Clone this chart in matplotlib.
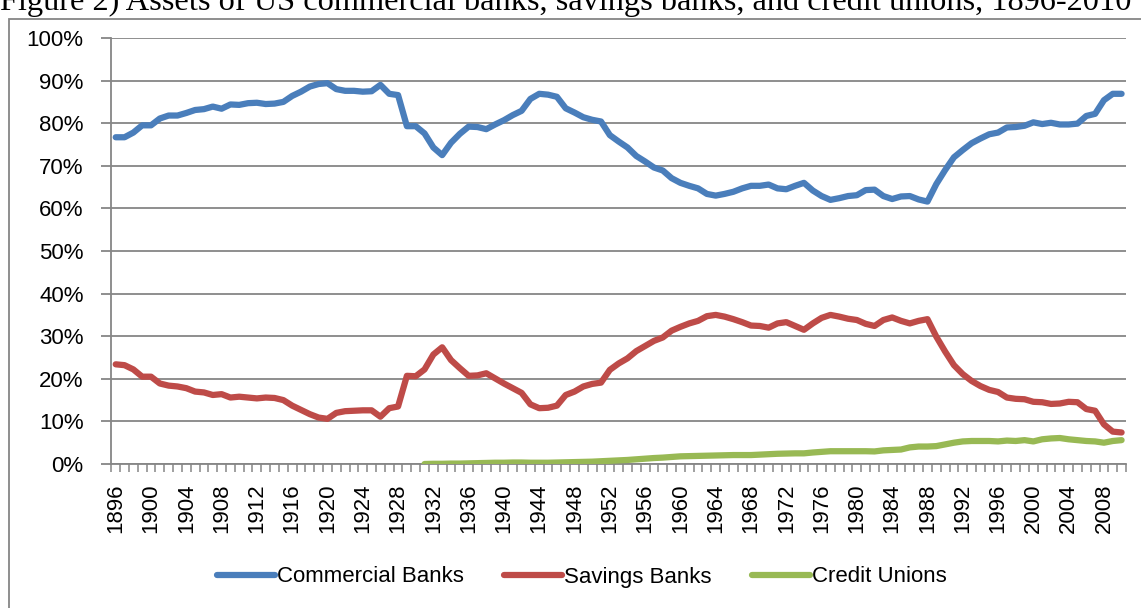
import numpy as np
import matplotlib
matplotlib.use("Agg")
import matplotlib.pyplot as plt
from matplotlib.patches import Rectangle

# years on the category axis
years = list(range(1896, 2011))

# share of total assets (%)
commercial = [
    76.7, 76.7, 77.8, 79.5, 79.5, 81.1, 81.8, 81.8, 82.4, 83.1,
    83.3, 83.9, 83.4, 84.4, 84.3, 84.7, 84.8, 84.5, 84.6, 85.0,
    86.4, 87.4, 88.6, 89.2, 89.4, 88.0, 87.6, 87.6, 87.4, 87.5,
    89.0, 86.9, 86.6, 79.3, 79.3, 77.6, 74.3, 72.5, 75.4, 77.5,
    79.2, 79.1, 78.6, 79.7, 80.7, 81.9, 82.9, 85.7, 86.9, 86.7,
    86.2, 83.5, 82.5, 81.4, 80.8, 80.4, 77.2, 75.7, 74.3, 72.3,
    71.0, 69.6, 68.9, 67.1, 66.0, 65.3, 64.7, 63.4, 63.0, 63.4,
    63.9, 64.7, 65.3, 65.3, 65.6, 64.7, 64.5, 65.3, 66.0, 64.2,
    62.9, 62.0, 62.4, 62.9, 63.1, 64.3, 64.4, 62.9, 62.2, 62.8,
    62.9, 62.1, 61.6, 65.7, 69.0, 72.0, 73.7, 75.3, 76.4, 77.4,
    77.8, 79.0, 79.1, 79.4, 80.2, 79.8, 80.1, 79.7, 79.7, 79.9,
    81.7, 82.2, 85.4, 86.9, 86.9,
]
savings = [
    23.4, 23.2, 22.2, 20.5, 20.5, 18.9, 18.4, 18.2, 17.8, 17.0,
    16.8, 16.2, 16.4, 15.6, 15.8, 15.6, 15.4, 15.6, 15.5, 15.0,
    13.7, 12.7, 11.7, 10.9, 10.6, 12.0, 12.4, 12.5, 12.6, 12.6,
    11.1, 13.1, 13.5, 20.7, 20.6, 22.2, 25.7, 27.4, 24.4, 22.5,
    20.7, 20.8, 21.3, 20.1, 18.9, 17.8, 16.7, 14.0, 13.1, 13.2,
    13.7, 16.2, 17.0, 18.2, 18.8, 19.1, 22.1, 23.6, 24.8, 26.5,
    27.7, 28.9, 29.7, 31.3, 32.2, 33.0, 33.6, 34.7, 35.0, 34.6,
    34.0, 33.3, 32.5, 32.4, 32.0, 33.0, 33.3, 32.4, 31.5, 33.0,
    34.3, 35.0, 34.6, 34.1, 33.8, 32.9, 32.4, 33.8, 34.4, 33.6,
    33.0, 33.6, 34.0, 29.9, 26.4, 23.2, 21.1, 19.5, 18.3, 17.4,
    16.9, 15.6, 15.3, 15.2, 14.6, 14.5, 14.1, 14.2, 14.6, 14.5,
    12.9, 12.5, 9.3, 7.6, 7.4,
]
cu_years = list(range(1931, 2011))
credit_unions = [
    0.0, 0.05, 0.05, 0.1, 0.1, 0.15, 0.2, 0.25, 0.3, 0.3,
    0.35, 0.35, 0.3, 0.3, 0.3, 0.35, 0.4, 0.45, 0.5, 0.55,
    0.65, 0.75, 0.85, 0.95, 1.1, 1.25, 1.4, 1.5, 1.65, 1.8,
    1.85, 1.9, 1.95, 2.0, 2.05, 2.1, 2.1, 2.1, 2.2, 2.3,
    2.4, 2.45, 2.5, 2.5, 2.7, 2.85, 3.0, 3.0, 3.0, 3.0,
    3.0, 2.95, 3.2, 3.3, 3.4, 3.9, 4.1, 4.1, 4.2, 4.6,
    5.0, 5.3, 5.4, 5.4, 5.4, 5.3, 5.5, 5.4, 5.6, 5.3,
    5.8, 6.0, 6.1, 5.8, 5.6, 5.4, 5.3, 5.0, 5.4, 5.6,
]
series_names = ["Commercial Banks", "Savings Banks", "Credit Unions"]
colors = ["#4A7EBB", "#BE4B48", "#98B954"]
title = "Figure 2) Assets of US commercial banks, savings banks, and credit unions, 1896-2010"

W, H = 1141, 608
fig = plt.figure(figsize=(W / 100, H / 100), dpi=100)
sans = "Liberation Sans"
grey = "#868686"

# chart frame (only left and top edges fall inside the picture)
fig.patches.append(Rectangle((9 / W, -0.1), 1.2, 1 - 19 / H + 0.1, transform=fig.transFigure,
                             fill=False, edgecolor=grey, lw=1.3))

# caption line above the chart, cropped at the top edge as in the source
fig.text(0.0, 1 - 10 / H, title, family="Liberation Serif", fontsize=23.3,
         ha="left", va="baseline")

ax = fig.add_axes([111.3 / W, 1 - 464 / H, (1126 - 111.3) / W, (464 - 38) / H])

ax.plot(years, np.array(commercial) / 100, color=colors[0], lw=4.5,
        solid_capstyle="round", solid_joinstyle="round", label=series_names[0], zorder=3)
ax.plot(years, np.array(savings) / 100, color=colors[1], lw=4.5,
        solid_capstyle="round", solid_joinstyle="round", label=series_names[1], zorder=3)
ax.plot(cu_years, np.array(credit_unions) / 100, color=colors[2], lw=4.5,
        solid_capstyle="round", solid_joinstyle="round", label=series_names[2], zorder=3)

ax.set_xlim(1895.5, 2010.5)
ax.set_ylim(0, 1)

yt = np.arange(0, 1.01, 0.1)
ax.set_yticks(yt)
ax.set_yticklabels(["%d%%" % round(v * 100) for v in yt], family=sans, fontsize=16)
ax.tick_params(axis="y", length=7, width=1.3, color=grey, pad=13)
ax.grid(axis="y", color=grey, lw=1.3, zorder=1)

xt = list(range(1896, 2011, 4))
ax.set_xticks(xt)
ax.set_xticklabels([str(y) for y in xt], rotation=90, family=sans, fontsize=16)
ax.set_xticks(np.arange(1895.5, 2011, 1), minor=True)
ax.tick_params(axis="x", which="major", length=0, pad=14)
ax.tick_params(axis="x", which="minor", length=6, width=1.1, color=grey)

for side in ["top", "right"]:
    ax.spines[side].set_visible(False)
for side in ["left", "bottom"]:
    ax.spines[side].set_color(grey)
    ax.spines[side].set_linewidth(1.3)

leg = fig.legend(loc="center", bbox_to_anchor=(0.51, 1 - 577 / H), ncol=3, frameon=False,
                 prop={"family": sans, "size": 16}, handlelength=2.6, handletextpad=0.1,
                 columnspacing=1.8)
for h in leg.get_lines():
    h.set_linewidth(4.5)

fig.savefig("out.png", dpi=100)
